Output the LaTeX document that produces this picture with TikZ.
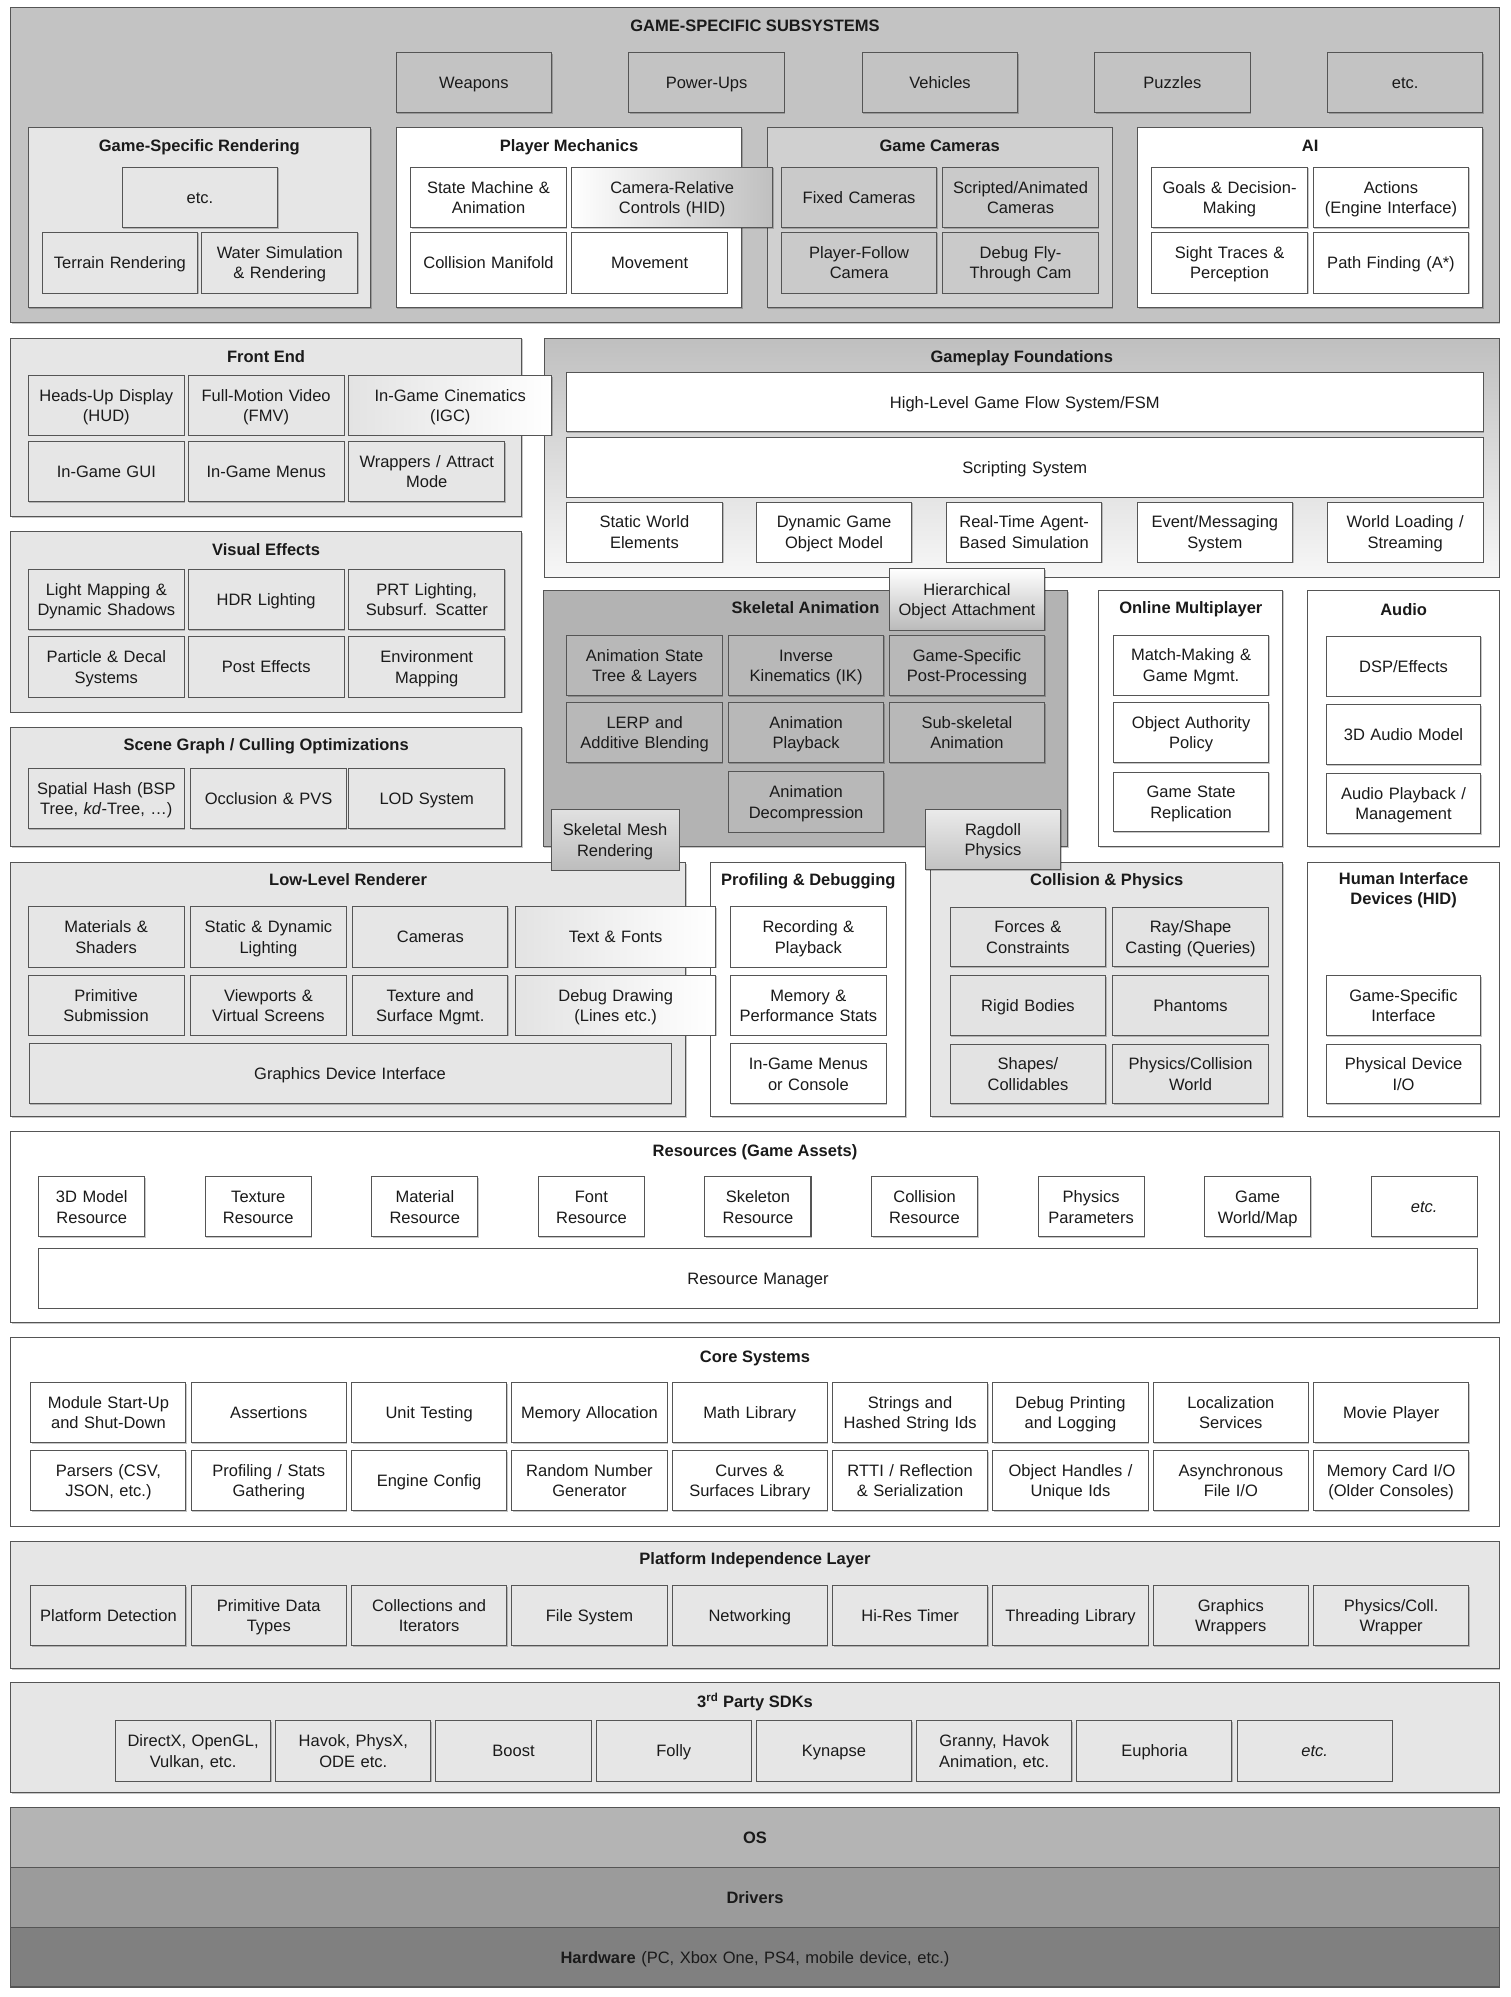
\documentclass[tikz,border=0pt]{standalone}
\usepackage{fontspec}
\setmainfont{Liberation Sans}
\usetikzlibrary{shadows}
\definecolor{cGss}{HTML}{C3C3C3}
\definecolor{cLt}{HTML}{E6E6E6}
\definecolor{cLtB}{HTML}{E3E3E3}
\definecolor{cCam}{HTML}{D0D0D0}
\definecolor{cCamB}{HTML}{CACACA}
\definecolor{cSkel}{HTML}{B3B3B3}
\definecolor{cSkelB}{HTML}{B8B8B8}
\definecolor{cOS}{HTML}{B4B4B4}
\definecolor{cDrv}{HTML}{9B9B9B}
\definecolor{cHw}{HTML}{808080}
\definecolor{cLine}{HTML}{555555}
\definecolor{cTxt}{HTML}{1A1A1A}
\newcommand\fs{\fontsize{13}{16}\selectfont}
\newcommand\bx[7][]{%
  \pgfmathsetmacro\bxw{#5-#3}%
  \pgfmathsetmacro\bxh{#6-#4}%
  \pgfmathsetmacro\bxt{#5-#3-2}%
  \node[box,#1,minimum width=\bxw pt,minimum height=\bxh pt,text width=\bxt pt] (#2) at ({(#3+#5)/2},{(#4+#6)/2}) {#7};}
\begin{document}
\begin{tikzpicture}[x=1pt,y=-1pt,
  evenfit/.style={execute at begin node={\rule{0pt}{12.3pt}}, execute at end node={\rule[-2.9pt]{0pt}{0pt}}},
  box/.style={draw=cLine, line width=0.8pt, inner sep=0pt, outer sep=0pt, align=center, font=\fs, text=cTxt, evenfit,
    drop shadow={shadow xshift=0.8pt, shadow yshift=-0.9pt, fill=black, opacity=0.22}},
  ttl/.style={font=\fs\bfseries, inner sep=0pt, align=center, text=cTxt, evenfit}]
\useasboundingbox (0,0) rectangle (1190,1573);
\fill[white] (0,0) rectangle (1190,1573);

% ---------------- GAME-SPECIFIC SUBSYSTEMS ----------------
\bx[fill=cGss]{pGss}{8.4}{5.8}{1181}{254}{}
\node[ttl] (tGss) at (594.7,20.5) {GAME-SPECIFIC SUBSYSTEMS};
\bx[fill=cGss]{weap}{312}{41.5}{434.5}{88.7}{Weapons}
\bx[fill=cGss]{pwr}{495.3}{41.5}{617.8}{88.7}{Power-Ups}
\bx[fill=cGss]{veh}{679.2}{41.5}{801.6}{88.7}{Vehicles}
\bx[fill=cGss]{puz}{862.3}{41.5}{984.6}{88.7}{Puzzles}
\bx[fill=cGss]{etc1}{1045.8}{41.5}{1168}{88.7}{etc.}

\bx[fill=cLt]{pGsr}{22.1}{100.5}{292}{242.5}{}
\node[ttl] (tGsr) at (157,114.5) {Game-Specific Rendering};
\bx[fill=cLt]{gsrEtc}{96.2}{131.7}{218.7}{179.3}{etc.}
\bx[fill=cLt]{terr}{33.2}{183}{155.7}{231}{Terrain Rendering}
\bx[fill=cLt]{water}{159}{183}{281.7}{231}{Water Simulation\\ \& Rendering}

\bx[fill=white]{pPm}{312}{100.5}{584.4}{242.5}{}
\node[ttl] (tPm) at (448.2,114.5) {Player Mechanics};
\bx[fill=white]{stm}{323.6}{131.7}{446}{179.3}{State Machine \&\\ Animation}
\bx[fill=white]{colm}{323.6}{183}{446}{231}{Collision Manifold}
\bx[fill=white]{move}{450.4}{183}{573}{231}{Movement}

\bx[fill=cCam]{pGc}{604.3}{100.5}{876}{242.5}{}
\node[ttl] (tGc) at (740.2,114.5) {Game Cameras};
\bx[fill=cCamB]{fixc}{615.4}{131.7}{738}{179.3}{Fixed Cameras}
\bx[fill=cCamB]{scrc}{742.7}{131.7}{865}{179.3}{Scripted/Animated\\ Cameras}
\bx[fill=cCamB]{pfc}{615.4}{183}{738}{231}{Player-Follow\\ Camera}
\bx[fill=cCamB]{dfc}{742.7}{183}{865}{231}{Debug Fly-\\ Through Cam}

\bx[fill=white]{pAi}{896.3}{100.5}{1168}{242.5}{}
\node[ttl] (tAi) at (1032,114.5) {AI};
\bx[fill=white]{goals}{907}{131.7}{1030}{179.3}{Goals \& Decision-\\ Making}
\bx[fill=white]{acts}{1034.3}{131.7}{1157}{179.3}{Actions\\ (Engine Interface)}
\bx[fill=white]{sight}{907}{183}{1030}{231}{Sight Traces \&\\ Perception}
\bx[fill=white]{path}{1034.3}{183}{1157}{231}{Path Finding (A*)}

% ---------------- Front End ----------------
\bx[fill=cLt]{pFe}{8.4}{266.4}{410.9}{406.8}{}
\node[ttl] (tFe) at (209.6,280.5) {Front End};
\bx[fill=cLt]{hud}{22.2}{295.8}{145.3}{342.8}{Heads-Up Display\\ (HUD)}
\bx[fill=cLt]{fmv}{148.3}{295.8}{271}{342.8}{Full-Motion Video\\ (FMV)}
\bx[fill=cLt]{igui}{22.2}{348}{145.3}{395.3}{In-Game GUI}
\bx[fill=cLt]{imen}{148.3}{348}{271}{395.3}{In-Game Menus}
\bx[fill=cLt]{wrap}{274.8}{348}{397.5}{395.3}{Wrappers / Attract\\ Mode}

% ---------------- Gameplay Foundations ----------------
\bx[top color=black!25, bottom color=black!3]{pGf}{428.5}{266.4}{1181}{454.6}{}
\node[ttl] (tGf) at (804.8,280.5) {Gameplay Foundations};
\bx[fill=white]{hlgf}{446.1}{293.2}{1168.3}{340.2}{High-Level Game Flow System/FSM}
\bx[fill=white]{scr}{446.1}{344.4}{1168.3}{391.6}{Scripting System}
\bx[fill=white]{swe}{446.1}{395.5}{569.1}{442.8}{Static World\\ Elements}
\bx[fill=white]{dgom}{595.8}{395.5}{718.2}{442.8}{Dynamic Game\\ Object Model}
\bx[fill=white]{rtab}{745.5}{395.5}{867.9}{442.8}{Real-Time Agent-\\ Based Simulation}
\bx[fill=white]{evt}{895.7}{395.5}{1018.1}{442.8}{Event/Messaging\\ System}
\bx[fill=white]{wls}{1045.4}{395.5}{1168.3}{442.8}{World Loading /\\ Streaming}

% ---------------- Visual Effects ----------------
\bx[fill=cLt]{pVe}{8.4}{418.6}{410.9}{560.9}{}
\node[ttl] (tVe) at (209.6,432.8) {Visual Effects};
\bx[fill=cLt]{lmap}{22.2}{448.3}{145.3}{495.8}{Light Mapping \&\\ Dynamic Shadows}
\bx[fill=cLt]{hdr}{148.3}{448.3}{271}{495.8}{HDR Lighting}
\bx[fill=cLt]{prt}{274.8}{448.3}{397.5}{495.8}{PRT Lighting,\\ Subsurf. Scatter}
\bx[fill=cLt]{part}{22.2}{501.6}{145.3}{549.1}{Particle \& Decal\\ Systems}
\bx[fill=cLt]{post}{148.3}{501.6}{271}{549.1}{Post Effects}
\bx[fill=cLt]{envm}{274.8}{501.6}{397.5}{549.1}{Environment\\ Mapping}

% ---------------- Scene Graph ----------------
\bx[fill=cLt]{pSg}{8.4}{572.7}{410.9}{666.7}{}
\node[ttl] (tSg) at (209.6,586.8) {Scene Graph / Culling Optimizations};
\bx[fill=cLt]{spat}{22.2}{605.2}{145.3}{652.5}{Spatial Hash (BSP\\ Tree, \textit{kd}-Tree, …)}
\bx[fill=cLt]{occl}{150.2}{605.2}{272.9}{652.5}{Occlusion \& PVS}
\bx[fill=cLt]{lod}{274.8}{605.2}{397.5}{652.5}{LOD System}

% ---------------- Skeletal Animation ----------------
\bx[fill=cSkel]{pSa}{427.8}{465.1}{841.2}{666.7}{}
\node[ttl] (tSa) at (634.5,478.5) {Skeletal Animation};
\bx[fill=cSkelB]{ast}{446.5}{500.3}{569}{547.8}{Animation State\\ Tree \& Layers}
\bx[fill=cSkelB]{ik}{573.8}{500.3}{696.1}{547.8}{Inverse\\ Kinematics (IK)}
\bx[fill=cSkelB]{gspp}{700.3}{500.3}{823}{547.8}{Game-Specific\\ Post-Processing}
\bx[fill=cSkelB]{lerp}{446.5}{553.3}{569}{600.8}{LERP and\\ Additive Blending}
\bx[fill=cSkelB]{apb}{573.8}{553.3}{696.1}{600.8}{Animation\\ Playback}
\bx[fill=cSkelB]{subs}{700.3}{553.3}{823}{600.8}{Sub-skeletal\\ Animation}
\bx[fill=cSkelB]{adec}{573.8}{607.9}{696.1}{655.4}{Animation\\ Decompression}

% ---------------- Online Multiplayer ----------------
\bx[fill=white]{pOm}{865.6}{464.9}{1010.5}{666.8}{}
\node[ttl] (tOm) at (938,478.9) {Online Multiplayer};
\bx[fill=white]{mm}{876.9}{500.3}{999.5}{547.6}{Match-Making \&\\ Game Mgmt.}
\bx[fill=white]{oap}{876.9}{553.4}{999.5}{600.7}{Object Authority\\ Policy}
\bx[fill=white]{gsr}{876.9}{608.3}{999.5}{655.2}{Game State\\ Replication}

% ---------------- Audio ----------------
\bx[fill=white]{pAu}{1030.2}{465.5}{1181}{666.8}{}
\node[ttl] (tAu) at (1105.6,479.8) {Audio};
\bx[fill=white]{dsp}{1044.5}{501.2}{1166.5}{548.5}{DSP/Effects}
\bx[fill=white]{a3d}{1044.5}{555}{1166.5}{602.3}{3D Audio Model}
\bx[fill=white]{apm}{1044.5}{609.3}{1166.5}{656.5}{Audio Playback /\\ Management}

% ---------------- Low-Level Renderer ----------------
\bx[fill=cLt]{pLlr}{8.4}{679.3}{540.1}{879.8}{}
\node[ttl] (tLlr) at (274.2,693) {Low-Level Renderer};
\bx[fill=cLt]{mats}{22.1}{714.4}{145}{761.7}{Materials \&\\ Shaders}
\bx[fill=cLt]{sdl}{150}{714.4}{272.9}{761.7}{Static \& Dynamic\\ Lighting}
\bx[fill=cLt]{cams}{277.9}{714.4}{400}{761.7}{Cameras}
\bx[fill=cLt]{prim}{22.1}{768.2}{145}{815.5}{Primitive\\ Submission}
\bx[fill=cLt]{view}{150}{768.2}{272.9}{815.5}{Viewports \&\\ Virtual Screens}
\bx[fill=cLt]{tex}{277.9}{768.2}{400}{815.5}{Texture and\\ Surface Mgmt.}
\bx[fill=cLt]{gdi}{22.9}{822.3}{528.6}{869.5}{Graphics Device Interface}

% ---------------- Profiling & Debugging ----------------
\bx[fill=white]{pPd}{559.8}{679.3}{713.6}{879.8}{}
\node[ttl] (tPd) at (636.7,693) {Profiling \& Debugging};
\bx[fill=white]{rec}{575.3}{714.4}{698.2}{761.7}{Recording \&\\ Playback}
\bx[fill=white]{mps}{575.3}{768.3}{698.2}{815.5}{Memory \&\\ Performance Stats}
\bx[fill=white]{igmc}{575.3}{822.3}{698.2}{869.5}{In-Game Menus\\ or Console}

% ---------------- Collision & Physics ----------------
\bx[fill=cLt]{pCp}{733.1}{679.3}{1010.5}{879.8}{}
\node[ttl] (tCp) at (871.8,693) {Collision \& Physics};
\bx[fill=cLtB]{forc}{748.3}{714.5}{871.1}{761.5}{Forces \&\\ Constraints}
\bx[fill=cLtB]{ray}{876.6}{714.5}{999}{761.5}{Ray/Shape\\ Casting (Queries)}
\bx[fill=cLtB]{rigid}{748.3}{768.5}{871.1}{815.7}{Rigid Bodies}
\bx[fill=cLtB]{phan}{876.6}{768.5}{999}{815.7}{Phantoms}
\bx[fill=cLtB]{shap}{748.3}{822.5}{871.1}{869.5}{Shapes/\\ Collidables}
\bx[fill=cLtB]{pcw}{876.6}{822.5}{999}{869.5}{Physics/Collision\\ World}

% ---------------- HID ----------------
\bx[fill=white]{pHid}{1030.2}{679.3}{1181}{879.8}{}
\node[ttl] (tHid) at (1105.6,701.5) {Human Interface\\ Devices (HID)};
\bx[fill=white]{gsi}{1044.5}{768.5}{1166.5}{815.7}{Game-Specific\\ Interface}
\bx[fill=white]{pdio}{1044.5}{822.5}{1166.5}{869.5}{Physical Device\\ I/O}

% ---------------- overlapping bridge boxes ----------------
\bx[left color=white, right color=black!25]{crc}{450.4}{131.7}{608.5}{179.3}{Camera-Relative\\ Controls (HID)}
\bx[left color=cLtB, right color=white]{igc}{274.8}{295.8}{434.6}{342.8}{In-Game Cinematics\\ (IGC)}
\bx[top color=white, bottom color=black!27]{hoa}{700.3}{448}{823}{496.3}{Hierarchical\\ Object Attachment}
\bx[top color=black!12, bottom color=black!26]{smr}{434.1}{638}{534.9}{685.3}{Skeletal Mesh\\ Rendering}
\bx[top color=black!8, bottom color=black!24]{rag}{728.9}{637.5}{835.4}{685}{Ragdoll\\ Physics}
\bx[left color=cLtB, right color=white]{txt}{406.1}{714.4}{563.8}{761.7}{Text \& Fonts}
\bx[left color=cLtB, right color=white]{dbgd}{406.1}{768.2}{563.8}{815.5}{Debug Drawing\\ (Lines etc.)}

% ---------------- Resources ----------------
\bx[fill=white]{pRes}{8.4}{891.6}{1181}{1042}{}
\node[ttl] (tRes) at (594.7,906) {Resources (Game Assets)};
\bx[fill=white]{r1}{30.5}{927}{114}{974.3}{3D Model\\ Resource}
\bx[fill=white]{r2}{161.7}{927}{245.2}{974.3}{Texture\\ Resource}
\bx[fill=white]{r3}{292.9}{927}{376.4}{974.3}{Material\\ Resource}
\bx[fill=white]{r4}{424.1}{927}{507.6}{974.3}{Font\\ Resource}
\bx[fill=white]{r5}{555.3}{927}{638.8}{974.3}{Skeleton\\ Resource}
\bx[fill=white]{r6}{686.5}{927}{770}{974.3}{Collision\\ Resource}
\bx[fill=white]{r7}{817.7}{927}{901.2}{974.3}{Physics\\ Parameters}
\bx[fill=white]{r8}{948.9}{927}{1032.4}{974.3}{Game\\ World/Map}
\bx[fill=white]{r9}{1080.1}{927}{1163.6}{974.3}{\textit{etc.}}
\bx[fill=white]{rman}{30.5}{983.2}{1163.6}{1030.5}{Resource Manager}

% ---------------- Core Systems ----------------
\bx[fill=white]{pCore}{8.4}{1053.8}{1181}{1202.1}{}
\node[ttl] (tCore) at (594.7,1068.5) {Core Systems};
\bx[fill=white]{c1}{24.3}{1089.2}{146.5}{1136.5}{Module Start-Up\\ and Shut-Down}
\bx[fill=white]{c2}{150.6}{1089.2}{272.8}{1136.5}{Assertions}
\bx[fill=white]{c3}{276.9}{1089.2}{399.1}{1136.5}{Unit Testing}
\bx[fill=white]{c4}{403.2}{1089.2}{525.4}{1136.5}{Memory Allocation}
\bx[fill=white]{c5}{529.5}{1089.2}{651.7}{1136.5}{Math Library}
\bx[fill=white]{c6}{655.8}{1089.2}{778}{1136.5}{Strings and\\ Hashed String Ids}
\bx[fill=white]{c7}{782.1}{1089.2}{904.3}{1136.5}{Debug Printing\\ and Logging}
\bx[fill=white]{c8}{908.4}{1089.2}{1030.6}{1136.5}{Localization\\ Services}
\bx[fill=white]{c9}{1034.7}{1089.2}{1156.9}{1136.5}{Movie Player}
\bx[fill=white]{d1}{24.3}{1142.5}{146.5}{1189.8}{Parsers (CSV,\\ JSON, etc.)}
\bx[fill=white]{d2}{150.6}{1142.5}{272.8}{1189.8}{Profiling / Stats\\ Gathering}
\bx[fill=white]{d3}{276.9}{1142.5}{399.1}{1189.8}{Engine Config}
\bx[fill=white]{d4}{403.2}{1142.5}{525.4}{1189.8}{Random Number\\ Generator}
\bx[fill=white]{d5}{529.5}{1142.5}{651.7}{1189.8}{Curves \&\\ Surfaces Library}
\bx[fill=white]{d6}{655.8}{1142.5}{778}{1189.8}{RTTI / Reflection\\ \& Serialization}
\bx[fill=white]{d7}{782.1}{1142.5}{904.3}{1189.8}{Object Handles /\\ Unique Ids}
\bx[fill=white]{d8}{908.4}{1142.5}{1030.6}{1189.8}{Asynchronous\\ File I/O}
\bx[fill=white]{d9}{1034.7}{1142.5}{1156.9}{1189.8}{Memory Card I/O\\ (Older Consoles)}

% ---------------- Platform Independence Layer ----------------
\bx[fill=cLt]{pPil}{8.4}{1213.9}{1181}{1314.4}{}
\node[ttl] (tPil) at (594.7,1228) {Platform Independence Layer};
\bx[fill=cLt]{e1}{24.3}{1249}{146.5}{1296.3}{Platform Detection}
\bx[fill=cLt]{e2}{150.6}{1249}{272.8}{1296.3}{Primitive Data\\ Types}
\bx[fill=cLt]{e3}{276.9}{1249}{399.1}{1296.3}{Collections and\\ Iterators}
\bx[fill=cLt]{e4}{403.2}{1249}{525.4}{1296.3}{File System}
\bx[fill=cLt]{e5}{529.5}{1249}{651.7}{1296.3}{Networking}
\bx[fill=cLt]{e6}{655.8}{1249}{778}{1296.3}{Hi-Res Timer}
\bx[fill=cLt]{e7}{782.1}{1249}{904.3}{1296.3}{Threading Library}
\bx[fill=cLt]{e8}{908.4}{1249}{1030.6}{1296.3}{Graphics\\ Wrappers}
\bx[fill=cLt]{e9}{1034.7}{1249}{1156.9}{1296.3}{Physics/Coll.\\ Wrapper}

% ---------------- 3rd Party SDKs ----------------
\bx[fill=cLt]{p3p}{8.4}{1325.4}{1181}{1412.1}{}
\node[ttl] (t3p) at (594.7,1340) {3\textsuperscript{rd} Party SDKs};
\bx[fill=cLt]{s1}{91}{1355.4}{213.2}{1402.9}{DirectX, OpenGL,\\ Vulkan, etc.}
\bx[fill=cLt]{s2}{217.2}{1355.4}{339.4}{1402.9}{Havok, PhysX,\\ ODE etc.}
\bx[fill=cLt]{s3}{343.4}{1355.4}{465.6}{1402.9}{Boost}
\bx[fill=cLt]{s4}{469.6}{1355.4}{591.8}{1402.9}{Folly}
\bx[fill=cLt]{s5}{595.8}{1355.4}{718}{1402.9}{Kynapse}
\bx[fill=cLt]{s6}{722}{1355.4}{844.2}{1402.9}{Granny, Havok\\ Animation, etc.}
\bx[fill=cLt]{s7}{848.2}{1355.4}{970.4}{1402.9}{Euphoria}
\bx[fill=cLt]{s8}{974.4}{1355.4}{1096.6}{1402.9}{\textit{etc.}}

% ---------------- OS / Drivers / Hardware ----------------
\bx[fill=cOS, font=\fs\bfseries]{os}{8.4}{1423.4}{1181}{1470.6}{OS}
\bx[fill=cDrv, font=\fs\bfseries]{drv}{8.4}{1470.6}{1181}{1517.9}{Drivers}
\bx[fill=cHw]{hw}{8.4}{1517.9}{1181}{1565.1}{\textbf{Hardware} (PC, Xbox One, PS4, mobile device, etc.)}
\end{tikzpicture}
\end{document}
